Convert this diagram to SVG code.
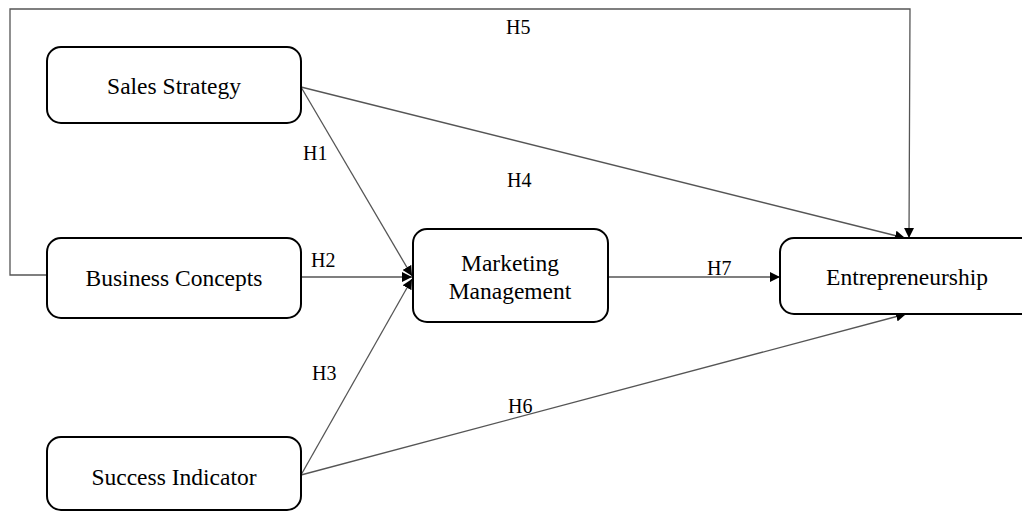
<svg xmlns="http://www.w3.org/2000/svg" width="1022" height="511" viewBox="0 0 1022 511">
<style>
.box{fill:#fff;stroke:#000;stroke-width:2}
.nt{font-family:"Liberation Serif","Times New Roman",serif;font-size:23.5px;fill:#000;text-anchor:middle}
.lb{font-family:"Liberation Serif","Times New Roman",serif;font-size:20px;fill:#000}
.cn{fill:none;stroke:#555;stroke-width:1.3}
</style>
<defs>
<marker id="ah" viewBox="0 0 10 10" refX="10" refY="5" markerWidth="10" markerHeight="10" markerUnits="userSpaceOnUse" orient="auto">
<path d="M0,0 L10,5 L0,10 z" fill="#000"/>
</marker>
</defs>
<rect width="1022" height="511" fill="#fff"/>
<g id="connectors">
<polyline class="cn" points="47,275 10,275 10,9 910,9 909,238" marker-end="url(#ah)"/>
<line class="cn" x1="301" y1="87" x2="905" y2="238" marker-end="url(#ah)"/>
<line class="cn" x1="301" y1="87" x2="412" y2="276" marker-end="url(#ah)"/>
<line class="cn" x1="301" y1="277" x2="412" y2="277" marker-end="url(#ah)"/>
<line class="cn" x1="301" y1="475" x2="412" y2="279" marker-end="url(#ah)"/>
<line class="cn" x1="301" y1="475" x2="906" y2="314" marker-end="url(#ah)"/>
<line class="cn" x1="608" y1="277" x2="780" y2="277" marker-end="url(#ah)"/>
<text class="lb" x="506" y="34">H5</text>
<text class="lb" x="303" y="160">H1</text>
<text class="lb" x="507" y="187">H4</text>
<text class="lb" x="311" y="267">H2</text>
<text class="lb" x="707" y="275">H7</text>
<text class="lb" x="312" y="380">H3</text>
<text class="lb" x="508" y="413">H6</text>
</g>
<g id="sales-strategy">
<rect class="box" x="47" y="47" width="254" height="76" rx="14"/>
<text class="nt" x="174" y="94">Sales Strategy</text>
</g>
<g id="business-concepts">
<rect class="box" x="47" y="238" width="254" height="80" rx="14"/>
<text class="nt" x="174" y="286">Business Concepts</text>
</g>
<g id="success-indicator">
<rect class="box" x="47" y="437" width="254" height="73" rx="14"/>
<text class="nt" x="174" y="485">Success Indicator</text>
</g>
<g id="marketing-management">
<rect class="box" x="413" y="229" width="195" height="93" rx="14"/>
<text class="nt" x="510" y="271">Marketing</text>
<text class="nt" x="510" y="299">Management</text>
</g>
<g id="entrepreneurship">
<rect class="box" x="780" y="238" width="256" height="76" rx="14"/>
<text class="nt" x="907" y="285">Entrepreneurship</text>
</g>
</svg>
